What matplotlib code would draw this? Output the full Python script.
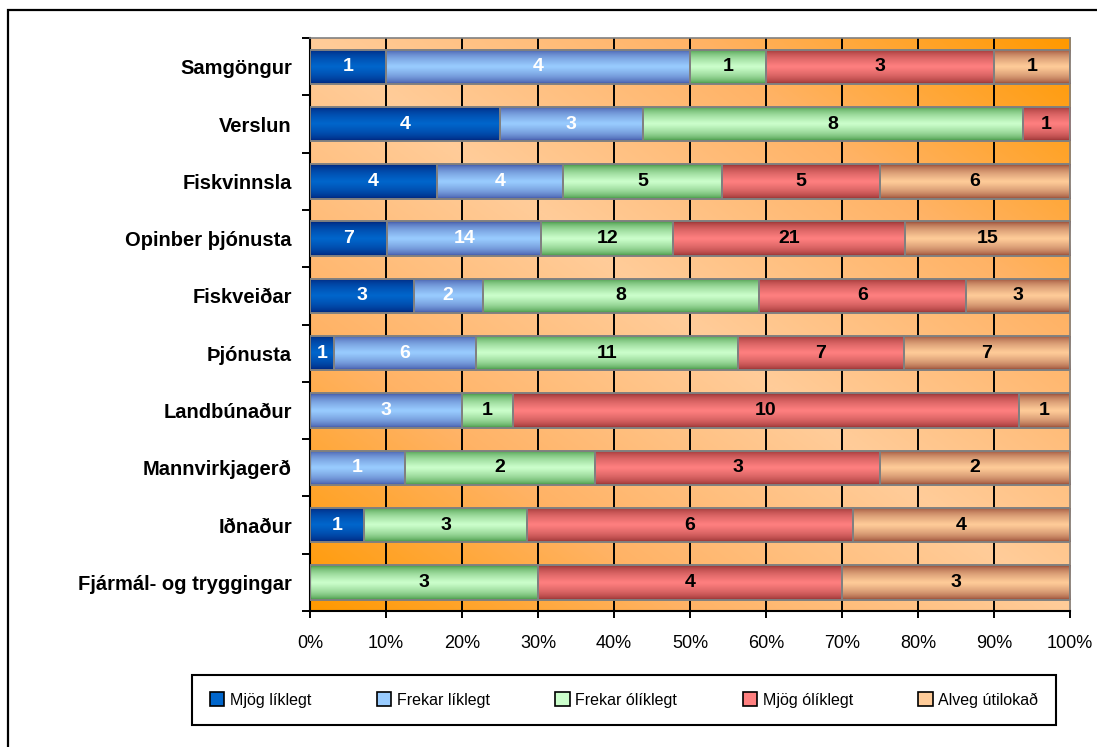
import numpy as np
import matplotlib
matplotlib.use('Agg')
import matplotlib.pyplot as plt
from matplotlib.colors import LinearSegmentedColormap
from matplotlib.patches import Rectangle

plt.rcParams['font.family'] = ['Liberation Sans', 'DejaVu Sans']

categories = ['Samgöngur', 'Verslun', 'Fiskvinnsla', 'Opinber þjónusta', 'Fiskveiðar',
              'Þjónusta', 'Landbúnaður', 'Mannvirkjagerð', 'Iðnaður', 'Fjármál- og tryggingar']
series = ['Mjög líklegt', 'Frekar líklegt', 'Frekar ólíklegt', 'Mjög ólíklegt', 'Alveg útilokað']
counts = {
    'Mjög líklegt':    [1, 4, 4, 7, 3, 1, 0, 0, 1, 0],
    'Frekar líklegt':  [4, 3, 4, 14, 2, 6, 3, 1, 0, 0],
    'Frekar ólíklegt': [1, 8, 5, 12, 8, 11, 1, 2, 3, 3],
    'Mjög ólíklegt':   [3, 1, 5, 21, 6, 7, 10, 3, 6, 4],
    'Alveg útilokað':  [1, 0, 6, 15, 3, 7, 1, 2, 4, 3],
}
x_ticks = [0, 10, 20, 30, 40, 50, 60, 70, 80, 90, 100]

# (edge colour, centre colour) for the striped bar look
bar_colors = [('#001a70', '#0066cc'), ('#34449a', '#99ccff'), ('#2f872f', '#ccffcc'),
              ('#872626', '#ff8080'), ('#873626', '#ffcc99')]
text_colors = ['white', 'white', 'black', 'black', 'black']

fig = plt.figure(figsize=(10.97, 7.47), dpi=100)
ax = fig.add_axes([0.2826, 0.182, 0.6928, 0.767])

# outer chart border
fig.patches.append(Rectangle((0.0073, -0.2), 2.0, 1.1866, transform=fig.transFigure,
                             fill=False, edgecolor='black', linewidth=1.6))

# background gradient: orange in top-right/bottom-left corners
gx, gy = np.meshgrid(np.linspace(0, 1, 300), np.linspace(0, 1, 300))
bg = np.abs(gx + gy - 1)
bg_cmap = LinearSegmentedColormap.from_list('bg', ['#ffcc99', '#ffb366', '#ff9900'])
ax.imshow(bg, extent=(0, 1, 0, 1), transform=ax.transAxes, origin='lower',
          cmap=bg_cmap, aspect='auto', zorder=0, interpolation='bilinear')

data = np.array([counts[s] for s in series], dtype=float)
totals = data.sum(axis=0)
pct = data / totals * 100
y = np.arange(len(categories))

u = np.linspace(0, 1, 40)
prof = np.clip(1 - np.abs(2 * u - 1), 0, 1) ** 0.5
prof = prof.reshape(-1, 1)

left = np.zeros(len(categories))
for i, s in enumerate(series):
    bars = ax.barh(y, pct[i], left=left, height=0.6, facecolor='none',
                   edgecolor='#808080', linewidth=1.4, zorder=3)
    cm = LinearSegmentedColormap.from_list(s, [bar_colors[i][0], bar_colors[i][1]])
    for rect in bars:
        if rect.get_width() <= 0:
            continue
        x0, y0 = rect.get_x(), rect.get_y()
        im = ax.imshow(prof, extent=(x0, x0 + rect.get_width(), y0, y0 + rect.get_height()),
                       cmap=cm, vmin=0, vmax=1, aspect='auto', zorder=2,
                       interpolation='bilinear')
        im.set_clip_path(rect)
    for j in range(len(categories)):
        if data[i, j] > 0:
            ax.text(left[j] + pct[i, j] / 2, y[j], '%d' % data[i, j], ha='center', va='center',
                    color=text_colors[i], fontsize=14, fontweight='bold', zorder=4)
    left += pct[i]

ax.set_xlim(0, 100)
ax.set_ylim(len(categories) - 0.5, -0.5)

ax.set_xticks(x_ticks)
ax.set_xticklabels(['%d%%' % t for t in x_ticks], fontsize=13)
ax.set_yticks(y)
ax.set_yticklabels(categories, fontsize=14.5, fontweight='bold')
ax.tick_params(axis='y', length=0, pad=13)
ax.set_yticks(np.arange(len(categories) + 1) - 0.5, minor=True)
ax.tick_params(axis='y', which='minor', length=6, width=1.4, direction='out')
ax.tick_params(axis='x', length=5, width=1.4, direction='out', pad=12)

for t in x_ticks[1:-1]:
    ax.axvline(t, color='black', linewidth=1.4, zorder=1)

ax.spines['left'].set_linewidth(1.5)
ax.spines['bottom'].set_linewidth(1.5)
ax.spines['top'].set_color('#808080')
ax.spines['right'].set_color('#808080')
ax.spines['top'].set_linewidth(1.2)
ax.spines['right'].set_linewidth(1.2)

handles = [Rectangle((0, 0), 1, 1, facecolor=c[1], edgecolor='black', linewidth=1.2)
           for c in bar_colors]
leg = fig.legend(handles, series, loc='center', bbox_to_anchor=(0.569, 0.063), ncol=5,
                 frameon=True, fancybox=False, edgecolor='black', framealpha=1,
                 handlelength=0.9, handleheight=0.9, handletextpad=0.35,
                 columnspacing=4.1, borderpad=1.1, fontsize=11.5)
leg.get_frame().set_linewidth(1.5)

fig.savefig('out.png', dpi=100)
